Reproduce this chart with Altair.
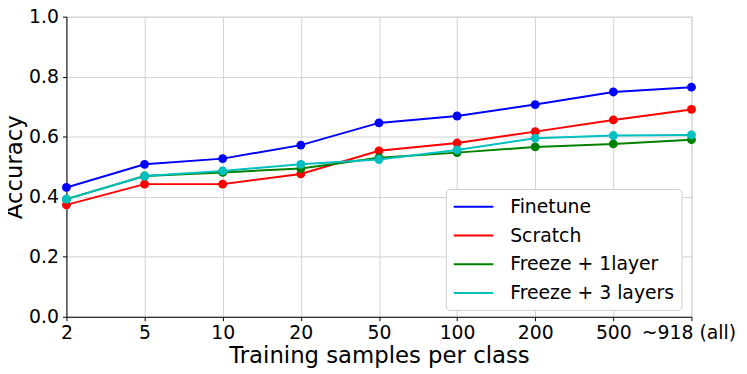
import altair as alt
import pandas as pd

samples = ["2", "5", "10", "20", "50", "100", "200", "500", "~918 (all)"]
finetune = [0.431, 0.508, 0.527, 0.572, 0.646, 0.669, 0.707, 0.749, 0.765]
scratch = [0.373, 0.442, 0.442, 0.476, 0.553, 0.579, 0.617, 0.656, 0.691]
freeze1 = [0.392, 0.469, 0.481, 0.494, 0.530, 0.547, 0.566, 0.576, 0.590]
freeze3 = [0.392, 0.469, 0.486, 0.508, 0.524, 0.556, 0.595, 0.604, 0.606]

series_names = ["Finetune", "Scratch", "Freeze + 1layer", "Freeze + 3 layers"]
series_vals = [finetune, scratch, freeze1, freeze3]
colors = ["#0000ff", "#ff0000", "#008000", "#00bfbf"]

rows = []
for name, vals in zip(series_names, series_vals):
    for s, v in zip(samples, vals):
        rows.append({"samples": s, "accuracy": v, "method": name})
df = pd.DataFrame(rows)

FONT = "DejaVu Sans"

x = alt.X("samples:O", sort=samples,
          scale=alt.Scale(type="point", padding=0),
          axis=alt.Axis(title="Training samples per class", labelAngle=0,
                        labelFontSize=19, titleFontSize=23, titleFontWeight="normal",
                        titlePadding=2, labelPadding=3, tickSize=4,
                        labelOffset={"condition": {"test": "datum.label == '~918 (all)'", "value": -3}, "value": 0},
                        labelOverlap=False,
                        grid=True, gridColor="#d0d0d0", domainColor="black",
                        tickColor="black", labelColor="black", titleColor="black"))
y = alt.Y("accuracy:Q", scale=alt.Scale(domain=[0, 1.0]),
          axis=alt.Axis(title="Accuracy", values=[0, 0.2, 0.4, 0.6, 0.8, 1.0], format=".1f",
                        labelFontSize=19, titleFontSize=23, titleFontWeight="normal",
                        titlePadding=2, labelPadding=4, tickSize=4,
                        grid=True, gridColor="#d0d0d0", domainColor="black",
                        tickColor="black", labelColor="black", titleColor="black"))
color_scale = alt.Scale(domain=series_names, range=colors)

lines = alt.Chart(df).mark_line(strokeWidth=2).encode(
    x=x, y=y,
    color=alt.Color("method:N", scale=color_scale, sort=series_names,
                    legend=alt.Legend(title=None, orient="none", legendX=383, legendY=174,
                                      symbolType="M-2,0H2", symbolSize=400,
                                      symbolStrokeWidth=2, symbolOffset=10,
                                      labelFontSize=19, labelColor="black", labelLimit=400,
                                      rowPadding=8, padding=7, fillColor="white",
                                      strokeColor="#cccccc", cornerRadius=4,
                                      labelOffset=26)),
    detail="method:N",
)
points = alt.Chart(df).mark_point(filled=True, size=80, opacity=1).encode(
    x=x, y=y,
    color=alt.Color("method:N", scale=color_scale, legend=None),
)

chart = (lines + points).properties(
    width=631, height=303,
    autosize=alt.AutoSizeParams(type="none"),
    padding={"left": 59, "top": 7, "right": 48, "bottom": 54},
).configure_view(stroke="black", strokeWidth=1.2).configure(font=FONT)

chart.save("out.html", embed_options={"renderer": "svg", "actions": False})
